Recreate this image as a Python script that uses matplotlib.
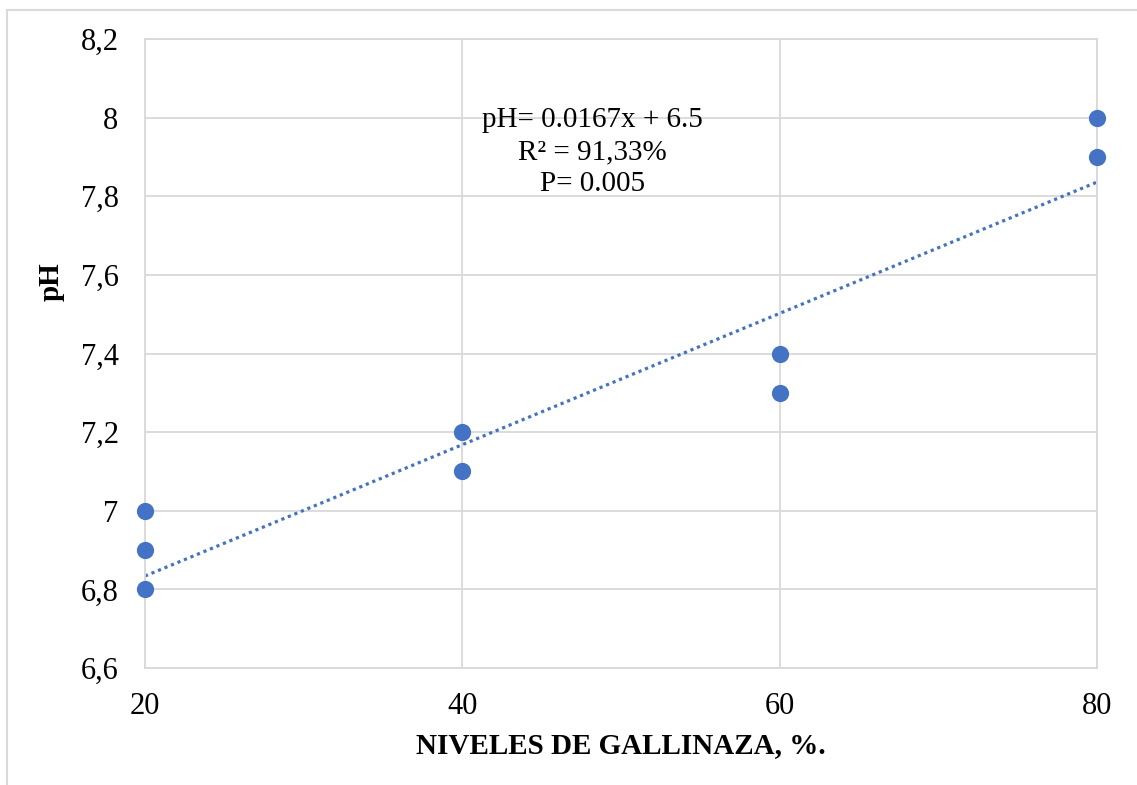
import numpy as np
import matplotlib.pyplot as plt
from matplotlib.patches import Rectangle

plt.rcParams['font.family'] = ['Liberation Serif', 'DejaVu Serif']

# data
niveles = [20, 20, 20, 40, 40, 60, 60, 80, 80]
ph = [7.0, 6.9, 6.8, 7.2, 7.1, 7.4, 7.3, 8.0, 7.9]
slope, intercept = 0.0167, 6.5
x_ticks = [20, 40, 60, 80]
y_ticks = [6.6, 6.8, 7.0, 7.2, 7.4, 7.6, 7.8, 8.0, 8.2]
y_labels = ['6,6', '6,8', '7', '7,2', '7,4', '7,6', '7,8', '8', '8,2']

blue = '#4472C4'
grid_c = '#D9D9D9'

fig = plt.figure(figsize=(11.37, 7.85), dpi=100)
ax = fig.add_axes([145 / 1137, 1 - 668 / 785, (1097 - 145) / 1137, (668 - 39) / 785])

# outer chart border
fig.patches.append(Rectangle((7 / 1137, -0.01), 1.02, 1 - 10 / 785 + 0.01,
                             transform=fig.transFigure, fill=False,
                             edgecolor=grid_c, linewidth=1.5))

xl = np.array([20, 80])
ax.plot(xl, slope * xl + intercept, linestyle=(0, (1, 1.2)), color=blue,
        linewidth=2.3, zorder=2)
ax.scatter(niveles, ph, s=130, color=blue, zorder=3, edgecolors=blue, clip_on=False)

ax.set_xlim(20, 80)
ax.set_ylim(6.6, 8.2)
ax.set_xticks(x_ticks)
ax.set_yticks(y_ticks)
ax.set_yticklabels(y_labels)
ax.grid(True, color=grid_c, linewidth=1.3)
ax.set_axisbelow(True)
for s in ax.spines.values():
    s.set_color(grid_c)
    s.set_linewidth(1.3)
ax.tick_params(length=0, labelsize=22)
ax.tick_params(axis='y', pad=19)
ax.tick_params(axis='x', pad=17)

ax.set_xlabel('NIVELES DE GALLINAZA, %.', fontsize=21, fontweight='bold', labelpad=8)
ax.set_ylabel('pH', fontsize=21, fontweight='bold')
ax.yaxis.set_label_coords(-0.084, 0.614)

ax.text(48.2, 7.912, 'pH= 0.0167x + 6.5\nR² = 91,33%\nP= 0.005', ha='center', va='center',
        fontsize=21, linespacing=1.3)

fig.savefig('out.png', dpi=100)
